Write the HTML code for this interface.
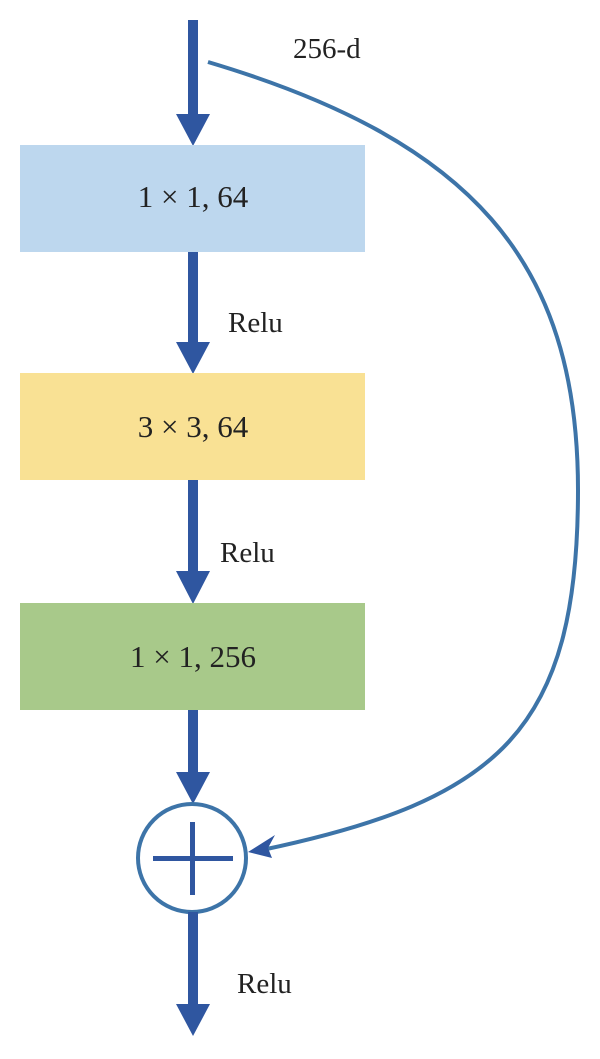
<!DOCTYPE html>
<html><head><meta charset="utf-8"><style>
html,body{margin:0;padding:0;background:#fff;width:600px;height:1059px;overflow:hidden}
text{font-family:"Liberation Serif",serif;fill:#222}
</style></head><body>
<svg width="600" height="1059" viewBox="0 0 600 1059">
<g>
<rect x="188" y="20" width="10" height="96" fill="#2f56a0"/>
<polygon points="176,114 210,114 193,146" fill="#2f56a0"/>
</g>
<text x="293" y="58" font-size="29">256-d</text>
<rect x="20" y="145" width="345" height="107" fill="#bdd7ee"/>
<text x="193" y="207" font-size="31" text-anchor="middle">1 × 1, 64</text>
<g>
<rect x="188" y="252" width="10" height="92" fill="#2f56a0"/>
<polygon points="176,342 210,342 193,374" fill="#2f56a0"/>
</g>
<text x="228" y="332" font-size="29">Relu</text>
<rect x="20" y="373" width="345" height="107" fill="#f9e194"/>
<text x="193" y="437" font-size="31" text-anchor="middle">3 × 3, 64</text>
<g>
<rect x="188" y="480" width="10" height="93" fill="#2f56a0"/>
<polygon points="176,571 210,571 193,604" fill="#2f56a0"/>
</g>
<text x="220" y="562" font-size="29">Relu</text>
<rect x="20" y="603" width="345" height="107" fill="#a8c98a"/>
<text x="193" y="667" font-size="31" text-anchor="middle">1 × 1, 256</text>
<g>
<rect x="188" y="710" width="10" height="64" fill="#2f56a0"/>
<polygon points="176,772 210,772 193,804" fill="#2f56a0"/>
</g>
<path d="M208,62 C470,140 578,260 578,490 C578,730 500,800 262,850" fill="none" stroke="#3d74a8" stroke-width="4"/>
<polygon points="248,852 275,835 268,848 272,858" fill="#2f56a0"/>
<g>
<circle cx="192" cy="858" r="54" fill="#fff" stroke="#3d74a8" stroke-width="4"/>
<rect x="153" y="856" width="80" height="5" fill="#2f56a0"/>
<rect x="190" y="822" width="5" height="73" fill="#2f56a0"/>
</g>
<g>
<rect x="188" y="912" width="10" height="96" fill="#2f56a0"/>
<polygon points="176,1004 210,1004 193,1036" fill="#2f56a0"/>
</g>
<text x="237" y="993" font-size="29">Relu</text>
</svg>
</body></html>
